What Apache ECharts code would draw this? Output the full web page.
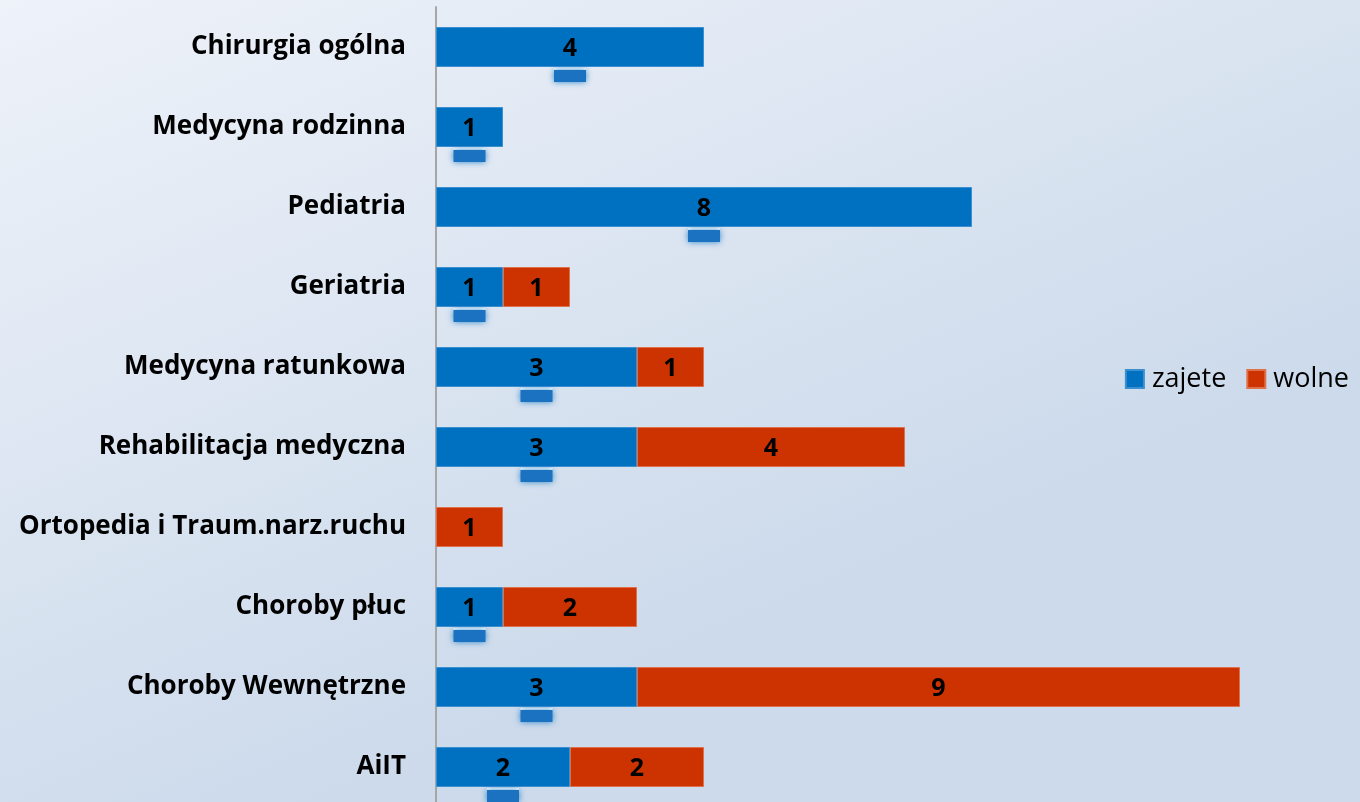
<!DOCTYPE html>
<html><head><meta charset="utf-8">
<script src="https://cdn.jsdelivr.net/npm/echarts@6/dist/echarts.min.js"></script>
<style>html,body{margin:0;padding:0;}#c{width:1360px;height:802px;}</style>
</head><body><div id="c"></div>
<script>
const categories = ["Chirurgia ogólna","Medycyna rodzinna","Pediatria","Geriatria","Medycyna ratunkowa","Rehabilitacja medyczna","Ortopedia i Traum.narz.ruchu","Choroby płuc","Choroby Wewnętrzne","AiIT"];
const zajete = [4, 1, 8, 1, 3, 3, null, 1, 3, 2];
const wolne = [null, null, null, 1, 1, 4, 1, 2, 9, 2];
const seriesNames = ["zajete", "wolne"];

const chart = echarts.init(document.getElementById('c'), null, {renderer: 'canvas'});
const FONT = '"Open Sans", sans-serif';
chart.setOption({
  backgroundColor: {type:'linear', x:0, y:0, x2:0.25, y2:1, colorStops:[{offset:0,color:'#eef2f9'},{offset:1,color:'#ccdaeb'}]},
  animation: false,
  legend: {
    data: seriesNames, right: 6, top: 360, itemWidth: 18, itemHeight: 18, itemGap: 20,
    icon: 'rect',
    textStyle: {fontFamily: FONT, fontSize: 27, color: '#000', lineHeight: 28, padding: [0, 0, 0, 3]}
  },
  grid: {left: 436, top: 7, right: 53, height: 800, containLabel: false, outerBoundsMode: 'none'},
  xAxis: {type: 'value', min: 0, max: 13, show: false},
  yAxis: {
    type: 'category', data: categories, inverse: true,
    axisLine: {show: true, lineStyle: {color: '#a6a6a6', width: 2}},
    axisTick: {show: false},
    axisLabel: {fontFamily: FONT, fontWeight: 'bold', fontSize: 26, color: '#000', margin: 30, padding: [4, 0, 0, 0]}
  },
  series: [
    {
      name: seriesNames[0], type: 'bar', stack: 'a', data: zajete, barWidth: 40,
      itemStyle: {color: '#0070C0', borderColor: '#3a8fd0', borderWidth: 1},
      label: {
        show: true, position: 'inside', offset: [0, 12],
        formatter: p => p.value == null ? '' : '{v|' + p.value + '}\n{g| }\n{w| }\n{t| }',
        rich: {
          v: {fontFamily: FONT, fontWeight: 'bold', fontSize: 25, color: '#000', height: 26, lineHeight: 26},
          g: {height: 6, lineHeight: 6, fontSize: 1},
          w: {height: 2, lineHeight: 2, width: 32, fontSize: 1, backgroundColor: '#ffffff'},
          t: {height: 12, lineHeight: 12, width: 32, fontSize: 1, backgroundColor: '#1a72c0', shadowBlur: 6, shadowColor: 'rgba(0,112,192,0.8)'}
        }
      }
    },
    {
      name: seriesNames[1], type: 'bar', stack: 'a', data: wolne, barWidth: 40,
      itemStyle: {color: '#CC3300', borderColor: '#e0704a', borderWidth: 1},
      label: {
        show: true, position: 'inside', offset: [0, 2],
        formatter: p => p.value == null ? '' : String(p.value),
        fontFamily: FONT, fontWeight: 'bold', fontSize: 25, color: '#000'
      }
    }
  ],
  color: ['#0070C0', '#CC3300']
});
</script></body></html>
